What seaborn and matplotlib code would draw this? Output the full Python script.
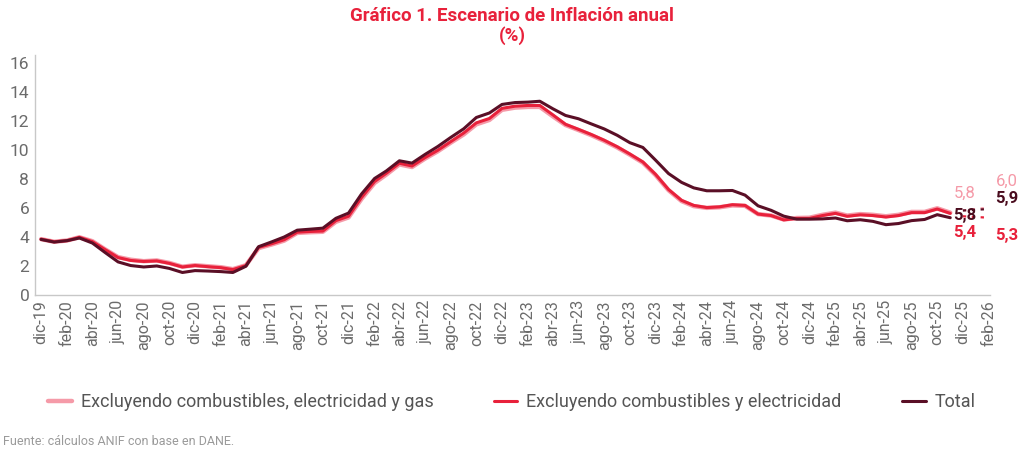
import pandas as pd
import matplotlib.pyplot as plt
import seaborn as sns

# Monthly annual inflation, dic-19 .. nov-25
months = pd.date_range("2019-12-01", "2025-11-01", freq="MS")

total = [3.80, 3.62, 3.72, 3.90, 3.55, 2.90, 2.25, 2.00, 1.90, 1.97, 1.80, 1.52,
         1.65, 1.62, 1.58, 1.52, 1.95, 3.30, 3.63, 3.97, 4.44, 4.51, 4.58, 5.26,
         5.62, 6.94, 8.01, 8.53, 9.23, 9.07, 9.67, 10.21, 10.84, 11.44, 12.22, 12.53,
         13.12, 13.25, 13.28, 13.34, 12.82, 12.36, 12.13, 11.78, 11.43, 10.99, 10.48, 10.15,
         9.28, 8.35, 7.74, 7.36, 7.16, 7.16, 7.18, 6.86, 6.12, 5.81, 5.41, 5.20,
         5.20, 5.22, 5.28, 5.09, 5.16, 5.05, 4.82, 4.90, 5.10, 5.18, 5.51, 5.30]

excl_comb_elec = [3.82, 3.64, 3.72, 3.95, 3.65, 3.10, 2.55, 2.35, 2.28, 2.32, 2.15, 1.90,
                  2.00, 1.92, 1.85, 1.72, 2.00, 3.25, 3.50, 3.78, 4.30, 4.35, 4.38, 5.10,
                  5.40, 6.70, 7.80, 8.37, 9.06, 8.87, 9.45, 9.95, 10.55, 11.15, 11.85, 12.15,
                  12.85, 13.00, 13.05, 13.05, 12.40, 11.75, 11.40, 11.05, 10.65, 10.20, 9.70, 9.15,
                  8.30, 7.25, 6.50, 6.15, 6.00, 6.05, 6.20, 6.15, 5.55, 5.45, 5.15, 5.25,
                  5.25, 5.45, 5.60, 5.40, 5.50, 5.45, 5.35, 5.45, 5.65, 5.65, 5.90, 5.60]

excl_comb_elec_gas = [3.82, 3.64, 3.73, 3.95, 3.68, 3.12, 2.58, 2.40, 2.30, 2.35, 2.18, 1.92,
                      2.02, 1.95, 1.88, 1.75, 2.02, 3.20, 3.45, 3.72, 4.25, 4.30, 4.33, 5.02,
                      5.32, 6.60, 7.70, 8.28, 8.98, 8.80, 9.38, 9.88, 10.48, 11.05, 11.75, 12.05,
                      12.75, 12.90, 12.95, 12.95, 12.30, 11.70, 11.35, 11.00, 10.60, 10.15, 9.65, 9.10,
                      8.25, 7.20, 6.45, 6.10, 5.98, 6.02, 6.15, 6.12, 5.55, 5.45, 5.18, 5.28,
                      5.30, 5.50, 5.65, 5.45, 5.55, 5.50, 5.40, 5.50, 5.70, 5.70, 5.95, 5.65]

# Scenario values: dic-25 and feb-26
proj_months = pd.to_datetime(["2025-12-01", "2026-02-01"])
proj_gas = [5.8, 6.0]
proj_total = [5.8, 5.9]
proj_elec = [5.4, 5.3]

tick_dates = pd.date_range("2019-12-01", "2026-02-01", freq="2MS")
mes = {1: "ene", 2: "feb", 3: "mar", 4: "abr", 5: "may", 6: "jun",
       7: "jul", 8: "ago", 9: "sep", 10: "oct", 11: "nov", 12: "dic"}
tick_labels = [f"{mes[d.month]}-{d.year % 100:02d}" for d in tick_dates]

names = ["Excluyendo combustibles, electricidad y gas",
         "Excluyendo combustibles y electricidad",
         "Total"]
colors = ["#f59aa8", "#e8213b", "#5a0f26"]

sns.set_style("white")
plt.rcParams["font.family"] = ["Roboto", "DejaVu Sans"]

fig = plt.figure(figsize=(10.24, 4.51), dpi=100)
ax = fig.add_axes([0.034, 0.347, 0.933, 0.530])

sns.lineplot(x=months, y=excl_comb_elec_gas, ax=ax, color=colors[0], linewidth=3.2,
             label=names[0])
sns.lineplot(x=months, y=excl_comb_elec, ax=ax, color=colors[1], linewidth=2.2,
             label=names[1])
sns.lineplot(x=months, y=total, ax=ax, color=colors[2], linewidth=2.2, label=names[2])

for vals, c in zip([proj_gas, proj_elec, proj_total], [colors[0], colors[1], colors[2]]):
    ax.plot(proj_months, vals, color=c, linewidth=1.6, linestyle=(0, (1.5, 2.5)))

# end labels
lab_x1 = pd.Timestamp("2025-12-05")
lab_x2 = pd.Timestamp("2026-03-15")
lab_kw = dict(fontsize=12, ha="center", va="center", clip_on=False)
ax.text(lab_x1, proj_gas[0] + 1.2, "5,8", color=colors[0], **lab_kw)
ax.text(lab_x1, proj_total[0] - 0.37, "5,8", color="#4a0c1e", fontweight="bold", **lab_kw)
ax.text(lab_x1, proj_elec[0] - 1.12, "5,4", color=colors[1], fontweight="bold", **lab_kw)
ax.text(lab_x2, proj_gas[1] + 1.84, "6,0", color=colors[0], **lab_kw)
ax.text(lab_x2, proj_total[1] + 0.7, "5,9", color="#4a0c1e", fontweight="bold", **lab_kw)
ax.text(lab_x2, proj_elec[1] - 1.25, "5,3", color=colors[1], fontweight="bold", **lab_kw)

ax.set_xlim(pd.Timestamp("2019-11-16"), pd.Timestamp("2026-02-04"))
ax.set_ylim(0, 16.5)
ax.set_yticks(range(0, 17, 2))
ax.set_xticks(tick_dates)
ax.set_xticklabels(tick_labels, rotation=90)
ax.tick_params(axis="x", colors="#6b6b6b", labelsize=11.5, length=0, pad=4)
ax.tick_params(axis="y", colors="#6b6b6b", labelsize=12.5, length=0, pad=4)
ax.set_xlabel("")
ax.set_ylabel("")

for side in ["top", "right"]:
    ax.spines[side].set_visible(False)
for side in ["left", "bottom"]:
    ax.spines[side].set_color("#c8c8c8")
    ax.spines[side].set_linewidth(1.0)

ax.get_legend().remove()
handles, labels = ax.get_legend_handles_labels()
leg = fig.legend(handles[:3], labels[:3], loc="center", ncol=3, frameon=False,
                 bbox_to_anchor=(0.50, 0.108), fontsize=13, handlelength=1.3,
                 handletextpad=0.5, columnspacing=3.35)
for t in leg.get_texts():
    t.set_color("#555555")

fig.text(0.5, 0.965, "Gráfico 1. Escenario de Inflación anual", ha="center", va="center",
         color="#e8213b", fontsize=13.5, fontweight="bold")
fig.text(0.5, 0.922, "(%)", ha="center", va="center",
         color="#e8213b", fontsize=13.5, fontweight="bold")
fig.text(0.003, 0.022, "Fuente: cálculos ANIF con base en DANE.", ha="left", va="center",
         color="#9a9a9a", fontsize=9)

fig.savefig("out.png", dpi=100)
